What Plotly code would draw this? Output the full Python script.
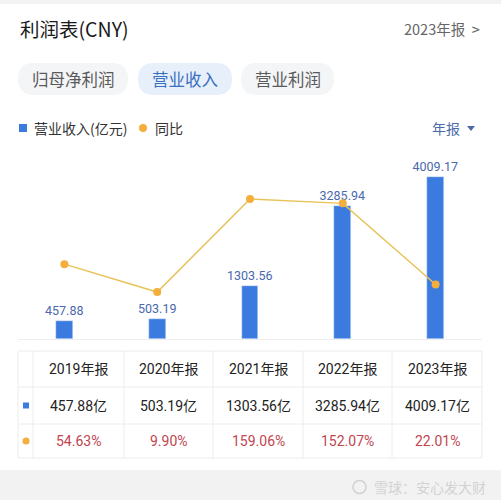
import plotly.graph_objects as go

years = ["2019", "2020", "2021", "2022", "2023"]
period_labels = ["2019年报", "2020年报", "2021年报", "2022年报", "2023年报"]
revenue = [457.88, 503.19, 1303.56, 3285.94, 4009.17]  # 亿元
yoy = [54.63, 9.90, 159.06, 152.07, 22.01]  # %
tabs = ["归母净利润", "营业收入", "营业利润"]
active_tab = "营业收入"

W, H = 501, 500
CJK = "Noto Sans CJK SC"
NUM = "Roboto, Noto Sans CJK SC"

def px(x):
    return x / W

def py(y):
    return 1 - y / H

BAR_COLOR = "#3b7be0"
LINE_COLOR = "#e8c35a"
DOT_COLOR = "#f4ae3d"
LABEL_COLOR = "#4a68ad"

fig = go.Figure()
fig.add_trace(go.Bar(
    x=years, y=revenue, width=0.18, marker_color=BAR_COLOR,
    text=[f"{v:.2f}" for v in revenue], textposition="outside",
    constraintext="none",
    textfont=dict(color=LABEL_COLOR, size=12.5, family=NUM),
    cliponaxis=False, showlegend=False, hoverinfo="skip",
))
fig.add_trace(go.Scatter(
    x=years, y=yoy, yaxis="y2", mode="lines+markers",
    line=dict(color=LINE_COLOR, width=1.5),
    marker=dict(color=DOT_COLOR, size=8),
    cliponaxis=False, showlegend=False, hoverinfo="skip",
))

plot_top, plot_bot = 160, 339
fig.update_layout(
    width=W, height=H, margin=dict(l=0, r=0, t=0, b=0),
    paper_bgcolor="white", plot_bgcolor="white",
    xaxis=dict(domain=[px(18), px(482)], showgrid=False, showticklabels=False,
               ticks="", showline=True, linecolor="#eeeeee", linewidth=1,
               zeroline=False),
    yaxis=dict(domain=[py(plot_bot), py(plot_top)], range=[0, 4431],
               showgrid=False, showticklabels=False, zeroline=False),
    yaxis2=dict(overlaying="y", range=[-65.4, 221.6], showgrid=False,
                showticklabels=False, zeroline=False, side="right"),
    bargap=0,
)

shapes = []
anns = []

# top thin gray band
shapes.append(dict(type="rect", xref="paper", yref="paper", x0=0, x1=1,
                   y0=py(4), y1=1, fillcolor="#f3f3f3", line_width=0))

# header
anns.append(dict(text="利润表(CNY)", x=px(18), y=py(28), xanchor="left", yanchor="middle",
                 font=dict(size=19.5, color="#1a1a1a", family=CJK)))
anns.append(dict(text="2023年报  >", x=px(482), y=py(28), xanchor="right", yanchor="middle",
                 font=dict(size=14.5, color="#666666", family=CJK)))

# tabs
tab_boxes = [(18, 128), (138, 232), (241, 334)]
for name, (a, b) in zip(tabs, tab_boxes):
    active = name == active_tab
    fill = "#e7effb" if active else "#f4f5f7"
    col = "#3a6fc0" if active else "#5a5a5a"
    r = 16
    y0, y1 = 63, 95
    path = (f"M {px(a + r)},{py(y0)} L {px(b - r)},{py(y0)} "
            f"Q {px(b)},{py(y0)} {px(b)},{py((y0 + y1) / 2)} "
            f"Q {px(b)},{py(y1)} {px(b - r)},{py(y1)} "
            f"L {px(a + r)},{py(y1)} "
            f"Q {px(a)},{py(y1)} {px(a)},{py((y0 + y1) / 2)} "
            f"Q {px(a)},{py(y0)} {px(a + r)},{py(y0)} Z")
    shapes.append(dict(type="path", xref="paper", yref="paper", path=path,
                       fillcolor=fill, line_width=0))
    anns.append(dict(text=name, x=px((a + b) / 2), y=py(79), xanchor="center", yanchor="middle",
                     font=dict(size=16.5, color=col, family=CJK)))

# legend
shapes.append(dict(type="rect", xref="paper", yref="paper", x0=px(19), x1=px(27),
                   y0=py(132), y1=py(124), fillcolor=BAR_COLOR, line_width=0))
anns.append(dict(text="营业收入(亿元)", x=px(32), y=py(128), xanchor="left", yanchor="middle",
                 font=dict(size=14, color="#333333", family=CJK)))
shapes.append(dict(type="circle", xref="paper", yref="paper", x0=px(139), x1=px(147),
                   y0=py(132), y1=py(124), fillcolor=DOT_COLOR, line_width=0))
anns.append(dict(text="同比", x=px(153), y=py(128), xanchor="left", yanchor="middle",
                 font=dict(size=14, color="#333333", family=CJK)))
anns.append(dict(text="年报", x=px(462), y=py(128), xanchor="right", yanchor="middle",
                 font=dict(size=14, color="#4a6aa8", family=CJK)))
shapes.append(dict(type="path", xref="paper", yref="paper",
                   path=f"M {px(467)},{py(126)} L {px(475)},{py(126)} L {px(471)},{py(131)} Z",
                   fillcolor="#4a6aa8", line_width=0))

# table
tx0, tx1 = 18, 482
ty = [351, 387, 424, 458]
cols = [33, 124, 213, 303, 392]
GRID = "#ececec"
shapes.append(dict(type="rect", xref="paper", yref="paper", x0=px(tx0), x1=px(tx1),
                   y0=py(ty[-1]), y1=py(ty[0]), line=dict(color=GRID, width=1)))
for yy in ty[1:-1]:
    shapes.append(dict(type="line", xref="paper", yref="paper", x0=px(tx0), x1=px(tx1),
                       y0=py(yy), y1=py(yy), line=dict(color=GRID, width=1)))
for xx in cols:
    shapes.append(dict(type="line", xref="paper", yref="paper", x0=px(xx), x1=px(xx),
                       y0=py(ty[-1]), y1=py(ty[0]), line=dict(color=GRID, width=1)))
col_edges = cols + [tx1]
centers = [(col_edges[i] + col_edges[i + 1]) / 2 for i in range(5)]
row_c = [(ty[i] + ty[i + 1]) / 2 for i in range(3)]
for i in range(5):
    anns.append(dict(text=period_labels[i], x=px(centers[i]), y=py(row_c[0]), xanchor="center",
                     yanchor="middle", font=dict(size=14, color="#222222", family=NUM)))
    anns.append(dict(text=f"{revenue[i]:.2f}亿", x=px(centers[i]), y=py(row_c[1]), xanchor="center",
                     yanchor="middle", font=dict(size=14, color="#222222", family=NUM)))
    anns.append(dict(text=f"{yoy[i]:.2f}%", x=px(centers[i]), y=py(row_c[2]), xanchor="center",
                     yanchor="middle", font=dict(size=14, color="#c0454f", family=NUM)))
shapes.append(dict(type="rect", xref="paper", yref="paper", x0=px(23), x1=px(29),
                   y0=py(row_c[1] + 3), y1=py(row_c[1] - 3), fillcolor=BAR_COLOR, line_width=0))
shapes.append(dict(type="circle", xref="paper", yref="paper", x0=px(22.5), x1=px(29.5),
                   y0=py(row_c[2] + 3.5), y1=py(row_c[2] - 3.5), fillcolor=DOT_COLOR, line_width=0))

# bottom band + watermark
shapes.append(dict(type="rect", xref="paper", yref="paper", x0=0, x1=1,
                   y0=0, y1=py(470), fillcolor="#f2f2f2", line_width=0))
shapes.append(dict(type="circle", xref="paper", yref="paper", x0=px(353), x1=px(366),
                   y0=py(493.5), y1=py(480.5), fillcolor="rgba(0,0,0,0)",
                   line=dict(color="#d2d2d2", width=1.5)))
anns.append(dict(text="雪球：安心发大财", x=px(488), y=py(487), xanchor="right", yanchor="middle",
                 font=dict(size=14, color="#d2d2d2", family=CJK)))

for a in anns:
    a.update(xref="paper", yref="paper", showarrow=False)
fig.update_layout(shapes=shapes, annotations=anns)

fig.write_html("out.html", config={"displayModeBar": False},
               post_script="document.body.style.margin='0';document.body.style.overflow='hidden';")
